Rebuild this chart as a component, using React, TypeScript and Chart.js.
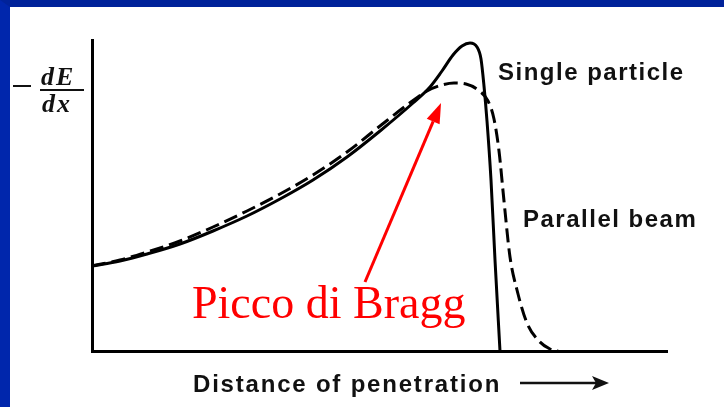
import React, { useEffect, useRef } from "react";
import { Chart, registerables } from "chart.js";

Chart.register(...registerables);

// Distance of penetration (arbitrary units) and -dE/dx (arbitrary units)
const singleX = [0, 28, 55, 88, 121, 155, 188, 221, 255, 288, 321, 338, 350, 361, 370, 378, 385, 389, 392, 395, 399, 403, 408];
const singleY = [85, 90, 97, 107, 120, 135, 152, 171, 194, 220, 248, 264, 280, 296, 305, 308, 304, 292, 265, 230, 171, 91, 0];

const beamX = [0, 28, 55, 88, 121, 155, 188, 221, 255, 288, 315, 335, 350, 362, 374, 386, 396, 402, 407, 412, 418, 425, 435, 447, 458, 466];
const beamY = [85, 91, 99, 110, 124, 140, 157, 176, 199, 225, 246, 260, 266, 268, 267, 261, 250, 232, 200, 150, 94, 61, 28, 10, 2, 0];

const xRange = [0, 575];
const yRange = [0, 311];

const labelSingle = "Single particle";
const labelBeam = "Parallel beam";
const labelX = "Distance of penetration";
const labelPeak = "Picco di Bragg";

const annotPlugin = {
  id: "annot",
  afterDraw(chart: any) {
    const ctx = chart.ctx as CanvasRenderingContext2D;
    ctx.save();
    const sans = '"Liberation Sans", Arial, sans-serif';
    ctx.fillStyle = "#111";
    ctx.textBaseline = "alphabetic";
    ctx.textAlign = "left";
    (ctx as any).letterSpacing = "1.5px";
    ctx.font = `bold 24px ${sans}`;
    ctx.fillText(labelSingle, 488, 73);
    ctx.fillText(labelBeam, 513, 220);
    (ctx as any).letterSpacing = "1.8px";
    ctx.fillText(labelX, 183, 385);

    // x-axis arrow
    ctx.strokeStyle = "#111";
    ctx.lineWidth = 2.5;
    ctx.beginPath();
    ctx.moveTo(510, 376);
    ctx.lineTo(590, 376);
    ctx.stroke();
    ctx.beginPath();
    ctx.moveTo(599, 376);
    ctx.lineTo(582, 369);
    ctx.lineTo(586, 376);
    ctx.lineTo(582, 383);
    ctx.closePath();
    ctx.fillStyle = "#111";
    ctx.fill();

    // y label: - dE/dx
    (ctx as any).letterSpacing = "2px";
    ctx.font = `bold italic 26px "Liberation Serif", "Times New Roman", serif`;
    ctx.fillText("dE", 31, 78);
    ctx.fillText("dx", 32, 105);
    ctx.lineWidth = 2;
    ctx.beginPath();
    ctx.moveTo(30, 83);
    ctx.lineTo(74, 83);
    ctx.stroke();
    ctx.beginPath();
    ctx.moveTo(3, 79);
    ctx.lineTo(21, 79);
    ctx.stroke();

    // Bragg peak annotation
    (ctx as any).letterSpacing = "0px";
    ctx.fillStyle = "#ff0000";
    ctx.strokeStyle = "#ff0000";
    ctx.font = `46px "Liberation Serif", "Times New Roman", serif`;
    ctx.fillText(labelPeak, 182, 311);
    const x0 = 355, y0 = 275, x1 = 431, y1 = 96;
    const ang = Math.atan2(y1 - y0, x1 - x0);
    const hl = 20, hw = 7;
    const bx = x1 - hl * Math.cos(ang), by = y1 - hl * Math.sin(ang);
    ctx.lineWidth = 3;
    ctx.beginPath();
    ctx.moveTo(x0, y0);
    ctx.lineTo(bx, by);
    ctx.stroke();
    ctx.beginPath();
    ctx.moveTo(x1, y1);
    ctx.lineTo(bx + hw * Math.sin(ang), by - hw * Math.cos(ang));
    ctx.lineTo(bx - hw * Math.sin(ang), by + hw * Math.cos(ang));
    ctx.closePath();
    ctx.fill();
    ctx.restore();
  },
};

export default function App() {
  const ref = useRef<HTMLCanvasElement>(null);
  useEffect(() => {
    if (!ref.current) return;
    const chart = new Chart(ref.current, {
      type: "line",
      data: {
        datasets: [
          {
            label: labelSingle,
            data: singleX.map((x, i) => ({ x, y: singleY[i] })),
            borderColor: "#000",
            borderWidth: 3,
            pointRadius: 0,
            cubicInterpolationMode: "monotone",
            fill: false,
          },
          {
            label: labelBeam,
            data: beamX.map((x, i) => ({ x, y: beamY[i] })),
            borderColor: "#000",
            borderWidth: 3,
            borderDash: [14, 6],
            pointRadius: 0,
            cubicInterpolationMode: "monotone",
            fill: false,
          },
        ],
      },
      options: {
        animation: false,
        responsive: false,
        maintainAspectRatio: false,
        clip: false as any,
        layout: { padding: { left: 82, right: 57, top: 33, bottom: 56 } },
        plugins: { legend: { display: false }, tooltip: { enabled: false }, title: { display: false } },
        scales: {
          x: {
            type: "linear",
            min: xRange[0],
            max: xRange[1],
            ticks: { display: false },
            grid: { display: false, drawTicks: false },
            border: { display: true, color: "#000", width: 3 },
          },
          y: {
            type: "linear",
            min: yRange[0],
            max: yRange[1],
            ticks: { display: false },
            grid: { display: false, drawTicks: false },
            border: { display: true, color: "#000", width: 3 },
          },
        },
      },
      plugins: [annotPlugin],
    });
    return () => chart.destroy();
  }, []);

  return (
    <div
      style={{
        position: "fixed",
        left: 0,
        top: 0,
        width: 724,
        height: 407,
        boxSizing: "border-box",
        background: "#fff",
        borderTop: "7px solid #00229a",
        borderLeft: "10px solid #0026ac",
        overflow: "hidden",
      }}
    >
      <canvas ref={ref} width={714} height={400} style={{ display: "block", width: 714, height: 400 }} />
    </div>
  );
}
